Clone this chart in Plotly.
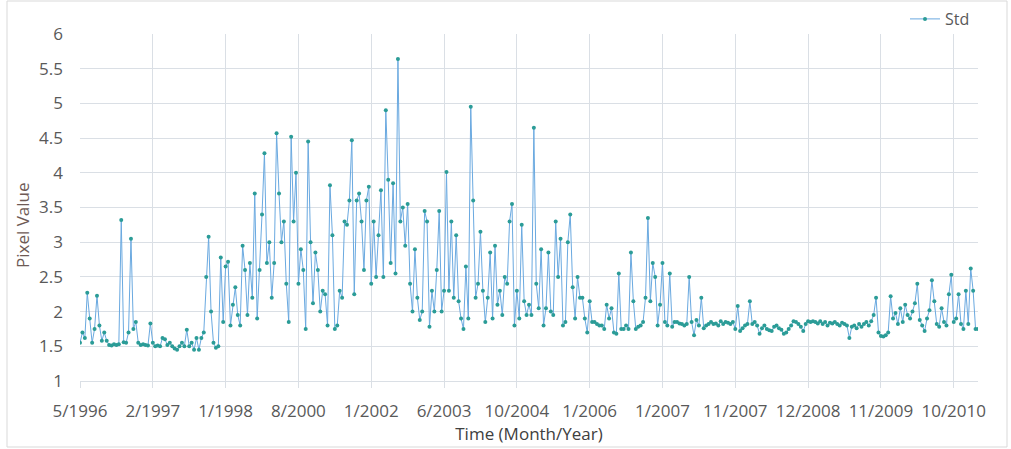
import plotly.graph_objects as go

# Std pixel values (30 samples per x-label interval)
std_values = [
    1.55, 1.70, 1.62, 2.27, 1.90, 1.55, 1.75, 2.23, 1.80, 1.58,
    1.70, 1.58, 1.52, 1.51, 1.53, 1.52, 1.53, 3.32, 1.56, 1.55,
    1.70, 3.05, 1.75, 1.85, 1.55, 1.52, 1.53, 1.52, 1.51, 1.83,
    1.55, 1.50, 1.51, 1.50, 1.62, 1.60, 1.52, 1.55, 1.50, 1.47,
    1.45, 1.50, 1.55, 1.50, 1.74, 1.50, 1.55, 1.45, 1.62, 1.45,
    1.62, 1.70, 2.50, 3.08, 2.00, 1.55, 1.48, 1.50, 2.78, 1.85,
    2.65, 2.72, 1.80, 2.10, 2.35, 1.95, 1.80, 2.95, 2.60, 1.95,
    2.70, 2.20, 3.70, 1.90, 2.60, 3.40, 4.28, 2.70, 3.00, 2.20,
    2.70, 4.57, 3.70, 3.00, 3.30, 2.40, 1.85, 4.52, 3.30, 4.00,
    2.40, 2.90, 2.60, 1.75, 4.45, 3.00, 2.12, 2.85, 2.60, 2.00,
    2.30, 2.25, 1.80, 3.82, 3.10, 1.75, 1.80, 2.30, 2.20, 3.30,
    3.25, 3.60, 4.47, 2.25, 3.60, 3.70, 3.30, 2.60, 3.60, 3.80,
    2.40, 3.30, 2.50, 3.10, 3.75, 2.50, 4.90, 3.90, 2.70, 3.85,
    2.55, 5.64, 3.30, 3.50, 2.95, 3.55, 2.40, 2.00, 2.90, 2.20,
    1.88, 2.00, 3.45, 3.30, 1.78, 2.30, 2.00, 2.60, 3.45, 2.00,
    2.30, 4.01, 2.30, 3.30, 2.20, 3.10, 2.15, 1.90, 1.75, 2.65,
    1.90, 4.95, 3.60, 2.20, 2.40, 3.15, 2.30, 1.85, 2.20, 2.85,
    1.90, 2.95, 2.10, 2.30, 1.95, 2.50, 2.40, 3.30, 3.55, 1.80,
    2.30, 1.90, 3.25, 2.15, 1.95, 2.10, 1.95, 4.65, 2.40, 2.05,
    2.90, 1.80, 2.05, 2.85, 2.00, 1.95, 3.30, 2.50, 3.05, 1.80,
    1.85, 3.00, 3.40, 2.35, 1.90, 2.50, 2.20, 2.20, 1.90, 1.70,
    2.15, 1.85, 1.85, 1.82, 1.80, 1.80, 1.75, 2.10, 1.90, 2.05,
    1.70, 1.68, 2.55, 1.75, 1.75, 1.80, 1.75, 2.85, 2.15, 1.75,
    1.78, 1.80, 1.85, 2.20, 3.35, 2.15, 2.70, 2.50, 1.80, 2.10,
    2.70, 1.85, 1.80, 2.55, 1.78, 1.85, 1.85, 1.83, 1.82, 1.80,
    1.82, 2.50, 1.85, 1.66, 1.88, 1.80, 2.20, 1.76, 1.80, 1.82,
    1.85, 1.82, 1.83, 1.80, 1.86, 1.82, 1.85, 1.84, 1.82, 1.85,
    1.75, 2.08, 1.72, 1.76, 1.80, 1.82, 2.15, 1.82, 1.85, 1.80,
    1.68, 1.76, 1.80, 1.75, 1.73, 1.72, 1.78, 1.80, 1.76, 1.74,
    1.68, 1.70, 1.75, 1.80, 1.86, 1.85, 1.82, 1.78, 1.72, 1.82,
    1.86, 1.85, 1.86, 1.85, 1.83, 1.86, 1.82, 1.85, 1.80, 1.84,
    1.83, 1.85, 1.82, 1.80, 1.84, 1.82, 1.80, 1.62, 1.78, 1.80,
    1.76, 1.82, 1.78, 1.82, 1.85, 1.80, 1.86, 1.95, 2.20, 1.70,
    1.65, 1.64, 1.66, 1.70, 2.22, 1.90, 1.98, 1.82, 2.05, 1.85,
    2.10, 1.95, 1.90, 2.00, 2.12, 2.40, 1.88, 1.80, 1.72, 1.90,
    2.02, 2.45, 2.15, 1.82, 1.78, 2.05, 1.85, 1.80, 2.25, 2.53,
    1.85, 1.90, 2.25, 1.82, 1.75, 2.30, 1.82, 2.62, 2.30, 1.75,
    1.75,
]

# Category axis labels (one label every 30 samples)
tick_labels = ["5/1996", "2/1997", "1/1998", "8/2000", "1/2002", "6/2003",
               "10/2004", "1/2006", "1/2007", "11/2007", "12/2008",
               "11/2009", "10/2010"]
label_step = 30

y_ticks = [1, 1.5, 2, 2.5, 3, 3.5, 4, 4.5, 5, 5.5, 6]

x_idx = list(range(len(std_values)))
tick_pos = [k * label_step for k in range(len(tick_labels))]

FONT = "Open Sans"
GRID = "#DADFE5"
TXT = "#595959"

# plot-area pixel box used for paper-coordinate placement of decorations
L, R, T, B = 80, 978, 34, 381
W, H = R - L, B - T

fig = go.Figure()
fig.add_trace(go.Scatter(
    x=x_idx, y=std_values, name="Std", mode="lines+markers",
    line=dict(color="#6AA9E0", width=1),
    marker=dict(color="#2B9C97", size=4, symbol="circle"),
))

fig.update_layout(
    width=1011, height=449,
    margin=dict(l=L, r=1011 - R, t=T, b=449 - B, autoexpand=False),
    paper_bgcolor="white", plot_bgcolor="white",
    font=dict(family=FONT, size=17, color=TXT),
    showlegend=True,
    legend=dict(x=(975 - L) / W, y=(B - 2) / H, xanchor="right", yanchor="top",
                font=dict(family=FONT, size=16, color=TXT),
                bgcolor="rgba(0,0,0,0)", itemwidth=30),
    xaxis=dict(
        range=[0, len(std_values) - 1],
        tickmode="array", tickvals=tick_pos, ticktext=tick_labels,
        showgrid=True, gridcolor=GRID, gridwidth=1,
        showline=True, linecolor=GRID, linewidth=1,
        ticks="outside", ticklen=6, tickcolor=GRID,
        ticklabelstandoff=9,
        tickfont=dict(family=FONT, size=17, color=TXT),
        zeroline=False,
        title=dict(text="Time (Month/Year)", standoff=6,
                   font=dict(family=FONT, size=17, color="#404040")),
    ),
    yaxis=dict(
        range=[1, 6],
        tickmode="array", tickvals=y_ticks,
        ticktext=[f"{v:g}" for v in y_ticks],
        showgrid=True, gridcolor=GRID, gridwidth=1,
        showline=False, zeroline=False,
        ticks="", ticklabelstandoff=16,
        tickfont=dict(family=FONT, size=17, color=TXT),
    ),
    annotations=[dict(
        text="Pixel Value", xref="paper", yref="paper",
        x=(22 - L) / W, y=(B - 225) / H, textangle=-90,
        showarrow=False, xanchor="center", yanchor="middle",
        font=dict(family=FONT, size=17, color="#6E5A55"),
    )],
    shapes=[dict(
        type="rect", xref="paper", yref="paper",
        x0=(7 - L) / W, x1=(1007 - L) / W,
        y0=(B - 447) / H, y1=(B - 1) / H,
        line=dict(color="#D9D9D9", width=1), fillcolor="rgba(0,0,0,0)",
        layer="below",
    )],
)

fig.write_html(
    "out.html",
    config={"displayModeBar": False},
    post_script="document.body.style.margin='0px';document.body.style.overflow='hidden';",
)
